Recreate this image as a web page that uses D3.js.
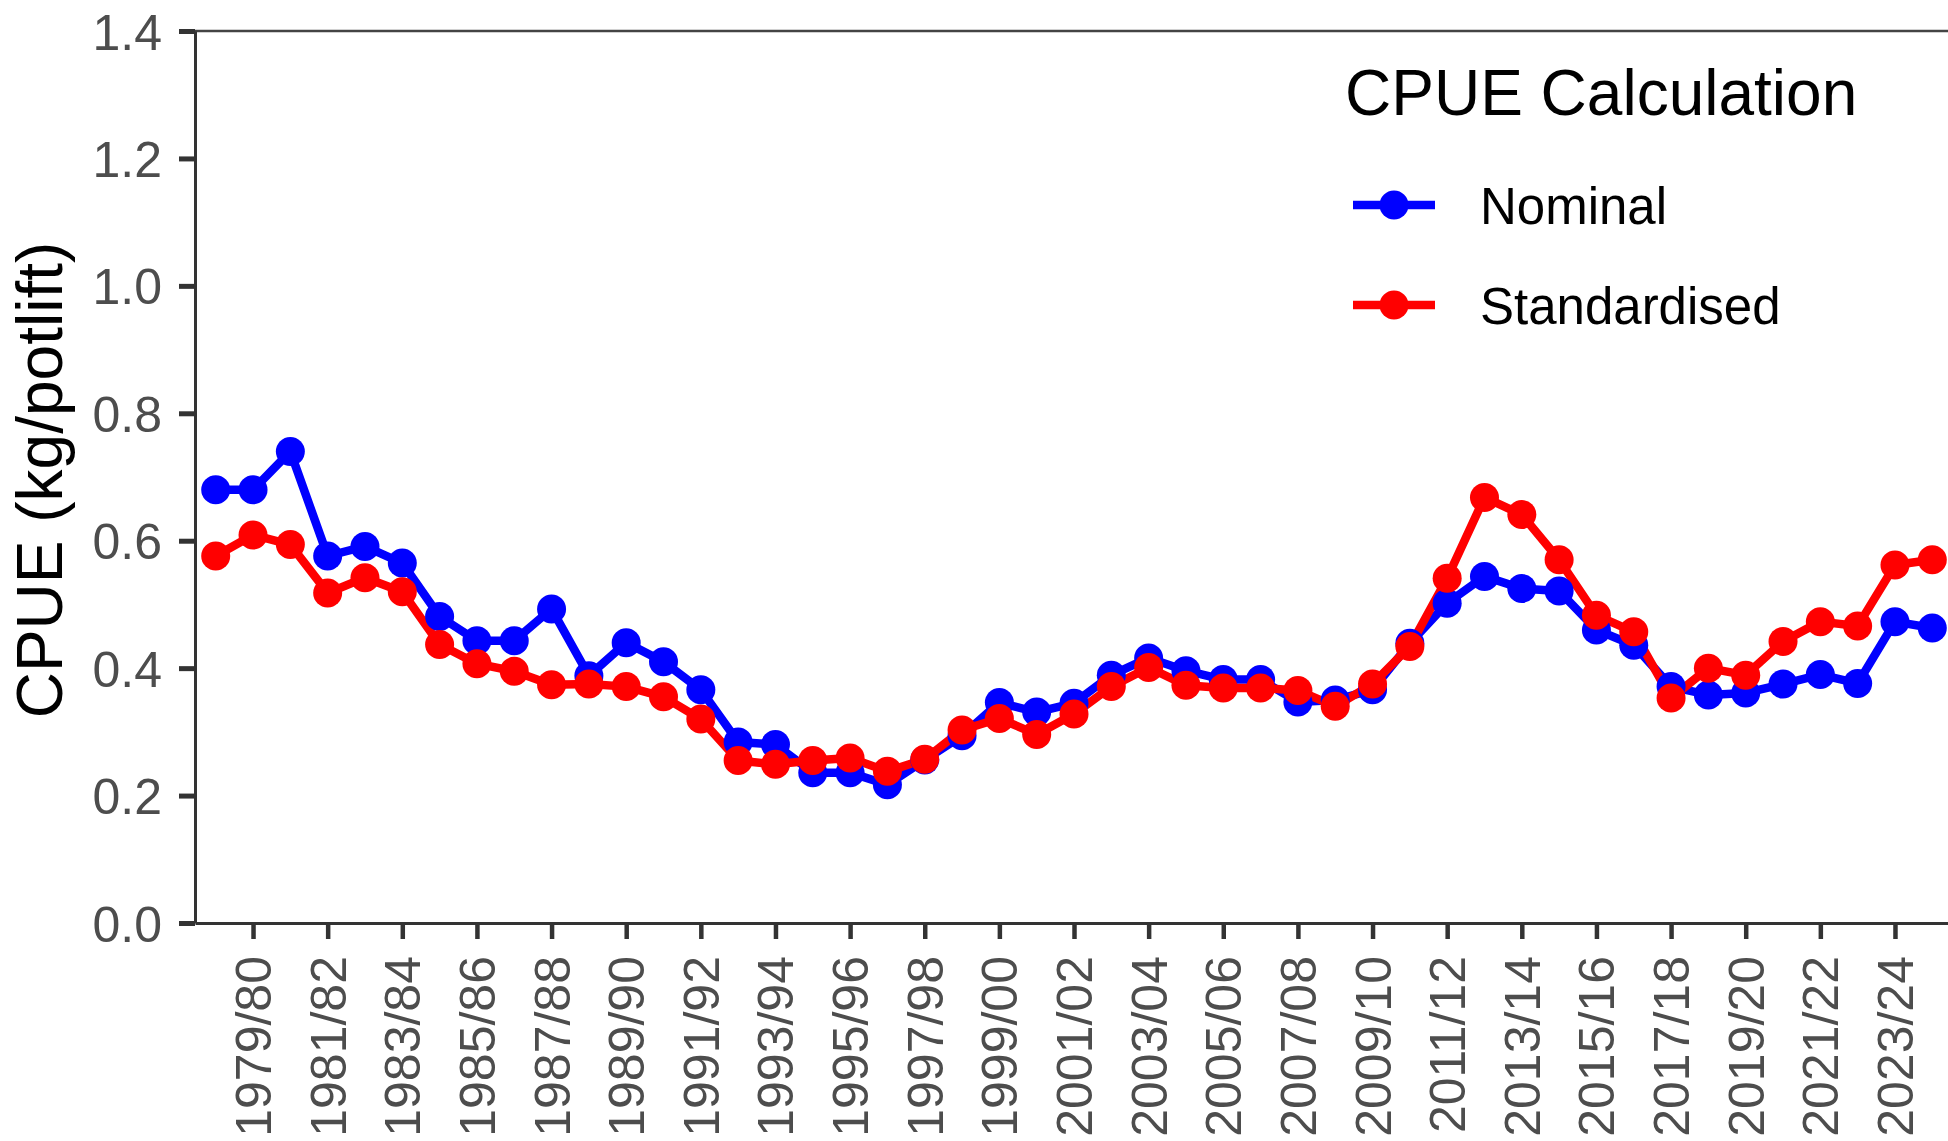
<!DOCTYPE html>
<html>
<head>
<meta charset="utf-8">
<script src="https://cdn.jsdelivr.net/npm/d3@7"></script>
<style>
  html, body { margin: 0; padding: 0; background: #fff; }
  svg { display: block; font-family: "Liberation Sans", Arial, sans-serif; }
</style>
</head>
<body>
<svg id="chart"></svg>
<script>
(function() {

const W = 1948, H = 1141;
const margin = { top: 31, right: -5, bottom: 218, left: 195 };
const width = W - margin.left - margin.right;
const height = H - margin.top - margin.bottom;

// Fishing seasons 1978/79 .. 2024/25
const seasons = ["1978/79","1979/80","1980/81","1981/82","1982/83","1983/84","1984/85","1985/86",
  "1986/87","1987/88","1988/89","1989/90","1990/91","1991/92","1992/93","1993/94","1994/95",
  "1995/96","1996/97","1997/98","1998/99","1999/00","2000/01","2001/02","2002/03","2003/04",
  "2004/05","2005/06","2006/07","2007/08","2008/09","2009/10","2010/11","2011/12","2012/13",
  "2013/14","2014/15","2015/16","2016/17","2017/18","2018/19","2019/20","2020/21","2021/22",
  "2022/23","2023/24","2024/25"];

const nominal = [0.680, 0.680, 0.740, 0.576, 0.591, 0.565, 0.481, 0.443, 0.443, 0.493,
  0.388, 0.440, 0.410, 0.366, 0.284, 0.280, 0.236, 0.236, 0.217, 0.256,
  0.294, 0.346, 0.331, 0.345, 0.389, 0.416, 0.396, 0.382, 0.382, 0.347,
  0.350, 0.366, 0.439, 0.502, 0.544, 0.525, 0.521, 0.460, 0.436, 0.371,
  0.358, 0.361, 0.375, 0.390, 0.376, 0.473, 0.463];

const standardised = [0.576, 0.609, 0.594, 0.518, 0.542, 0.520, 0.437, 0.407, 0.395, 0.374,
  0.375, 0.371, 0.355, 0.320, 0.255, 0.249, 0.255, 0.259, 0.238, 0.257,
  0.303, 0.321, 0.296, 0.328, 0.371, 0.401, 0.373, 0.369, 0.369, 0.365,
  0.340, 0.375, 0.434, 0.541, 0.668, 0.641, 0.570, 0.483, 0.457, 0.353,
  0.400, 0.389, 0.442, 0.473, 0.466, 0.562, 0.570];

const xTickLabels = seasons.filter((d, i) => i % 2 === 1);
const yTicks = [0, 0.2, 0.4, 0.6, 0.8, 1.0, 1.2, 1.4];

const seriesNames = ["Nominal", "Standardised"];
const colors = ["#0000ff", "#ff0000"];
const series = [nominal, standardised];

const svg = d3.select("#chart")
    .attr("width", W)
    .attr("height", H)
  .append("g")
    .attr("transform", `translate(${margin.left},${margin.top})`);

// Scales
const xScale = d3.scalePoint()
  .domain(seasons)
  .range([0, width])
  .padding(0.555);

const yScale = d3.scaleLinear()
  .domain([0, 1.4])
  .range([height, 0]);

// top border line
svg.append("line")
  .attr("x1", 0).attr("x2", width)
  .attr("y1", yScale(1.4)).attr("y2", yScale(1.4))
  .attr("stroke", "#444").attr("stroke-width", 2.7);

// y axis
const yAxis = svg.append("g")
  .call(d3.axisLeft(yScale).tickValues(yTicks).tickFormat(d3.format(".1f"))
    .tickSize(16).tickSizeOuter(0).tickPadding(17));
yAxis.select(".domain").attr("stroke", "#333").attr("stroke-width", 3);
yAxis.selectAll(".tick line").attr("stroke", "#333").attr("stroke-width", 5);
yAxis.selectAll(".tick text")
  .attr("dy", "0.36em")
  .style("font-size", "50px")
  .attr("fill", "#4d4d4d");

// x axis
const xAxis = svg.append("g")
  .attr("transform", `translate(0,${height})`)
  .call(d3.axisBottom(xScale).tickValues(xTickLabels).tickSize(16).tickSizeOuter(0));
xAxis.select(".domain").attr("stroke", "#333").attr("stroke-width", 3);
xAxis.selectAll(".tick line").attr("stroke", "#333").attr("stroke-width", 4.5);
xAxis.selectAll(".tick text")
  .attr("transform", "rotate(-90)")
  .attr("x", -33)
  .attr("y", 0)
  .attr("dy", "0.35em")
  .style("text-anchor", "end")
  .style("font-size", "50px")
  .attr("fill", "#4d4d4d");

// y axis title
svg.append("text")
  .attr("transform", `translate(${62 - margin.left},${480 - margin.top}) rotate(-90)`)
  .attr("text-anchor", "middle")
  .style("font-size", "64px")
  .attr("fill", "#000")
  .text("CPUE (kg/potlift)");

// lines
const line = d3.line()
  .x((d, i) => xScale(seasons[i]))
  .y(d => yScale(d));

svg.selectAll(".series-line")
  .data(series)
  .enter().append("path")
  .attr("class", "series-line")
  .attr("d", d => line(d))
  .attr("fill", "none")
  .attr("stroke", (d, i) => colors[i])
  .attr("stroke-width", 8.5)
  .attr("stroke-linejoin", "round");

// points
svg.selectAll(".series-pts")
  .data(series)
  .enter().append("g")
  .attr("class", "series-pts")
  .attr("fill", (d, i) => colors[i])
  .selectAll("circle")
  .data(d => d)
  .enter().append("circle")
  .attr("cx", (d, i) => xScale(seasons[i]))
  .attr("cy", d => yScale(d))
  .attr("r", 14.5);

// legend
const legend = svg.append("g")
  .attr("transform", `translate(${1345 - margin.left},${115 - margin.top})`);

legend.append("text")
  .attr("x", 0).attr("y", 0)
  .style("font-size", "64px")
  .attr("fill", "#000")
  .text("CPUE Calculation");

const items = legend.selectAll(".item")
  .data(seriesNames)
  .enter().append("g")
  .attr("class", "item")
  .attr("transform", (d, i) => `translate(0,${90 + i * 100})`);

items.append("line")
  .attr("x1", 8).attr("x2", 90)
  .attr("y1", 0).attr("y2", 0)
  .attr("stroke", (d, i) => colors[i])
  .attr("stroke-width", 8.5);

items.append("circle")
  .attr("cx", 49).attr("cy", 0)
  .attr("r", 14.5)
  .attr("fill", (d, i) => colors[i]);

items.append("text")
  .attr("x", 135).attr("y", 19)
  .style("font-size", "51px")
  .attr("fill", "#000")
  .text(d => d);

})();
</script>
</body>
</html>
